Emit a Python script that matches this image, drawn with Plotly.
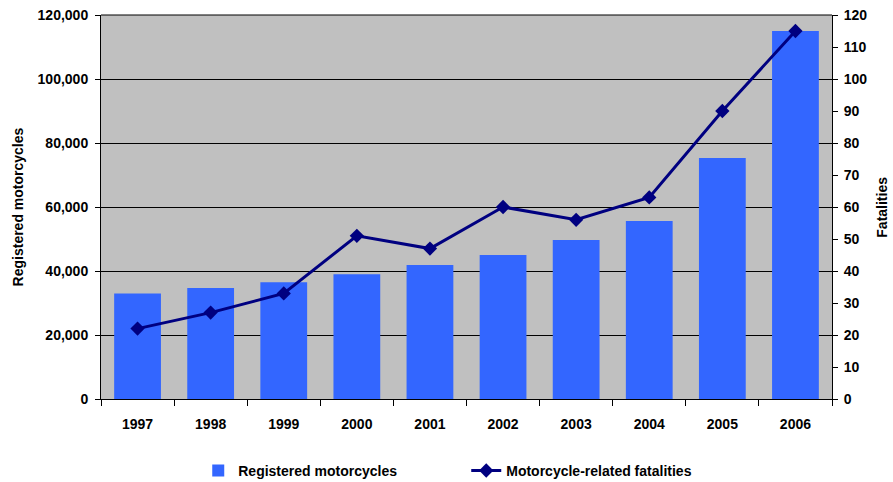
import plotly.graph_objects as go

years = ["1997", "1998", "1999", "2000", "2001", "2002", "2003", "2004", "2005", "2006"]
registered = [33000, 34700, 36500, 39000, 41900, 45000, 49700, 55600, 75300, 115000]
fatalities = [22, 27, 33, 51, 47, 60, 56, 63, 90, 115]

FONT = "Liberation Sans, Arial, sans-serif"

fig = go.Figure()
fig.add_trace(go.Bar(
    x=years, y=registered, name="<b>Registered motorcycles</b>",
    marker=dict(color="#3366FF", line=dict(width=0)),
))
fig.add_trace(go.Scatter(
    x=years, y=fatalities, name="<b>Motorcycle-related fatalities</b>", yaxis="y2",
    mode="lines+markers",
    line=dict(color="#000080", width=3),
    marker=dict(symbol="diamond", size=11, color="#000080"),
))

fig.update_layout(
    width=893, height=482,
    margin=dict(l=101, r=61, t=15, b=83, autoexpand=False),
    paper_bgcolor="white",
    plot_bgcolor="#C0C0C0",
    bargap=0.36,
    font=dict(family=FONT, size=14, color="black"),
    showlegend=True,
    legend=dict(
        orientation="h", xref="container", yref="container",
        x=0.222, xanchor="left", y=0.023, yanchor="middle",
        font=dict(family=FONT, size=14, color="black"),
        entrywidth=223, entrywidthmode="pixels",
        bgcolor="rgba(0,0,0,0)", borderwidth=0,
    ),
    xaxis=dict(
        type="category", tickson="boundaries", automargin=False,
        range=[-0.5, len(years) - 0.5],
        showline=True, linecolor="black", linewidth=1,
        ticks="outside", ticklen=6, tickcolor="black",
        ticklabelstandoff=12,
        tickfont=dict(family=FONT, size=14, color="black"),
        tickprefix="<b>", ticksuffix="</b>",
        showgrid=False,
    ),
    yaxis=dict(
        range=[0, 120000], dtick=20000, tickformat=",d", automargin=False,
        showline=True, linecolor="black", linewidth=1,
        ticks="outside", ticklen=5, tickcolor="black",
        ticklabelstandoff=4,
        showgrid=True, gridcolor="black", gridwidth=1,
        tickfont=dict(family=FONT, size=14, color="black"),
        tickprefix="<b>", ticksuffix="</b>",
        zeroline=False,
    ),
    yaxis2=dict(
        range=[0, 120], dtick=10, overlaying="y", side="right", automargin=False,
        showline=True, linecolor="black", linewidth=1,
        ticks="outside", ticklen=5, tickcolor="black",
        ticklabelstandoff=3,
        showgrid=False, zeroline=False,
        tickfont=dict(family=FONT, size=14, color="black"),
        tickprefix="<b>", ticksuffix="</b>",
    ),
    annotations=[
        dict(text="<b>Registered motorcycles</b>", xref="paper", yref="paper",
             x=-0.113, y=0.5, xanchor="center", yanchor="middle", textangle=-90,
             showarrow=False, font=dict(family=FONT, size=14, color="black")),
        dict(text="<b>Fatalities</b>", xref="paper", yref="paper",
             x=1.068, y=0.5, xanchor="center", yanchor="middle", textangle=-90,
             showarrow=False, font=dict(family=FONT, size=14, color="black")),
    ],
)

# top border of plot area
fig.add_shape(type="line", xref="paper", yref="paper", x0=0, x1=1, y0=1, y1=1,
              line=dict(color="black", width=1))

fig.write_html("out.html")
